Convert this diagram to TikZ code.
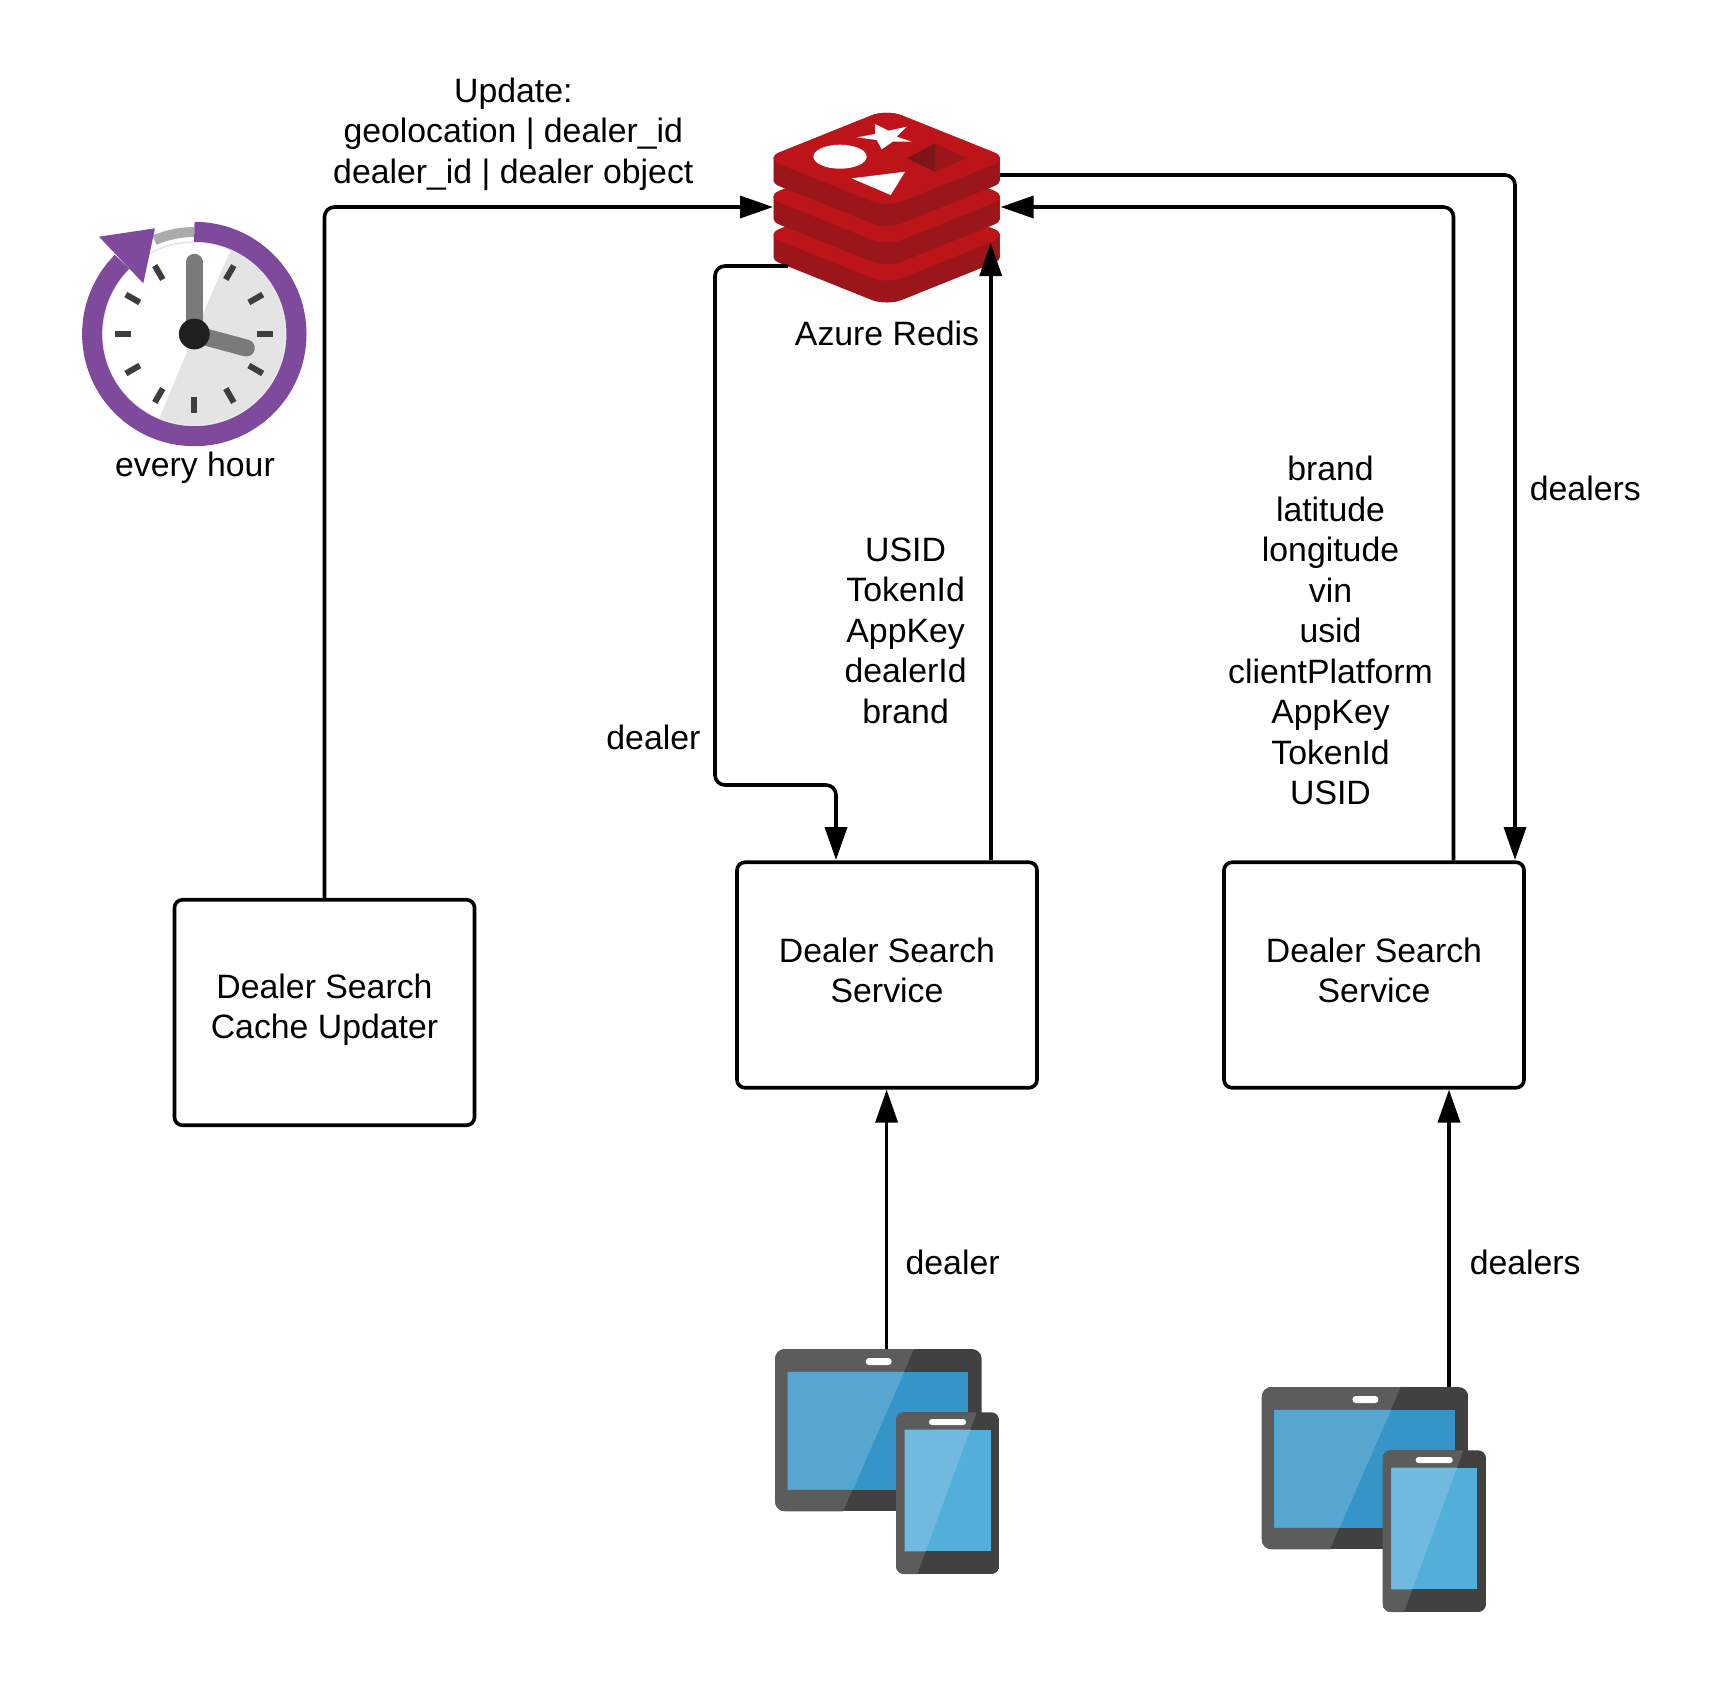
\documentclass[tikz,border=0pt]{standalone}
\usepackage{fontspec}
\setmainfont{Liberation Sans}
\usetikzlibrary{arrows.meta}
\definecolor{redTop}{HTML}{BD141A}
\definecolor{redSide}{HTML}{9B161B}
\definecolor{redDark}{HTML}{7E1517}
\definecolor{ringP}{HTML}{7F4A9C}
\definecolor{faceG}{HTML}{E4E4E4}
\definecolor{faceE}{HTML}{E6E6EE}
\definecolor{tickG}{HTML}{3E3E3E}
\definecolor{handG}{HTML}{7A7A7A}
\definecolor{bodyL}{HTML}{5C5C5C}
\definecolor{bodyD}{HTML}{414141}
\definecolor{scrL}{HTML}{56A6D0}
\definecolor{scrD}{HTML}{3695C8}
\definecolor{phL}{HTML}{6FBADE}
\definecolor{phD}{HTML}{52AFD9}
\tikzset{
  x=0.5pt,y=-0.5pt,
  box/.style={draw=black,line width=1.8pt,rounded corners=4pt,align=center,inner sep=0pt,
    minimum width=150pt,minimum height=112.75pt,font=\lbl},
  lab/.style={align=center,inner sep=0pt,font=\lbl},
  conn/.style={draw=black,line width=1.8pt,rounded corners=5pt,
    -{Triangle[length=16.5pt,width=11pt]}},
}
\newcommand{\lbl}{\fontsize{16.9}{20.25}\selectfont}
\newcommand{\rdiamond}[3]{\fill[#1,rounded corners=8pt] (886.7-122,#2+#3) -- (886.7,#2+#3-49) -- (886.7+122,#2+#3) -- (886.7,#2+#3+49) -- cycle;}
\newcommand{\redislayer}[1]{%
  \foreach \d in {22,20,...,0}{\rdiamond{redSide}{#1}{\d}}
  \rdiamond{redTop}{#1}{0}}
\newcommand{\devicepair}[2]{%
\begin{scope}[shift={(#1,#2)}]
  % tablet
  \begin{scope}
    \clip[rounded corners=5pt] (0,0) rectangle (206.7,162.3);
    \fill[bodyD] (0,0) rectangle (206.7,162.3);
    \fill[bodyL] (0,0) -- (139,0) -- (68,162.3) -- (0,162.3) -- cycle;
  \end{scope}
  \fill[scrD] (12.7,22.8) rectangle (193.3,140.5);
  \fill[scrL] (12.7,22.8) -- (129.3,22.8) -- (78,140.5) -- (12.7,140.5) -- cycle;
  \fill[white,rounded corners=1.7pt] (90.7,9) rectangle (116.7,16);
  % phone
  \begin{scope}
    \clip[rounded corners=4pt] (121,63.3) rectangle (224.3,225);
    \fill[bodyD] (121,63.3) rectangle (224.3,225);
    \fill[bodyL] (121,63.3) -- (201.7,63.3) -- (142.3,225) -- (121,225) -- cycle;
  \end{scope}
  \fill[phD] (129.7,80.7) rectangle (215.7,202.3);
  \fill[phL] (129.7,80.7) -- (195.3,80.7) -- (150.6,202.3) -- (129.7,202.3) -- cycle;
  \fill[white,rounded corners=1.4pt] (154,70) rectangle (191,76);
\end{scope}}
\begin{document}
\begin{tikzpicture}
\useasboundingbox (0,0) rectangle (1716,1688);
\fill[white] (0,0) rectangle (1716,1688);

% ---- clock
\begin{scope}[shift={(194.3,334)},x=0.5pt,y=0.5pt]
  \fill[white] (0,0) circle[radius=46.5pt];
  \fill[faceG] (0,0) -- (66.6:45.5pt) arc[start angle=66.6,end angle=-112.5,radius=45.5pt] -- cycle;
  \draw[faceE,line width=0.8pt] (0,0) circle[radius=46pt];
  \foreach \a in {60,30,0,-30,-60,-90,-120,-150,180,150,120}
    \draw[tickG,line width=3pt] (\a:31.5pt) -- (\a:39.5pt);
  \draw[handG,line width=8.2pt,line cap=round] (0,0) -- (0,72);
  \draw[handG,line width=8.5pt,line cap=round] (0,0) -- (52,-14);
  \fill[black!88] (0,0) circle[radius=7.7pt];
  \draw[black!33,line width=5pt] (90:51pt) arc[start angle=90,end angle=113,radius=51pt];
  \draw[ringP,line width=10pt] (90:51.1pt) arc[start angle=90,end angle=-225,radius=51.1pt];
  \fill[ringP] (-95.3,97.3) -- (-39.3,105.7) -- (-51,50.7) -- cycle;
\end{scope}

% ---- redis
\redislayer{235}
\redislayer{196.7}
\redislayer{158.3}
\begin{scope}[shift={(700,90)},x=0.1667pt,y=-0.1667pt]
  \fill[white] (420,200) ellipse[x radius=13.3pt,y radius=6pt];
  \fill[white] (620,110) -- (590,140) -- (635,155) -- (578,155) -- (545,178) -- (530,150) -- (470,142) -- (525,132) -- (525,102) -- (565,122) -- cycle;
  \fill[white] (455,265) -- (615,245) -- (572,315) -- cycle;
  \fill[redSide] (705,160) -- (800,205) -- (705,245) -- cycle;
  \fill[redDark] (705,160) -- (620,205) -- (705,245) -- cycle;
\end{scope}

% ---- devices
\devicepair{775}{1349}
\devicepair{1261.7}{1387}

% ---- boxes
\node[box,text depth=6.4pt] (updater) at (324.5,1012.5) {Dealer Search\\Cache Updater};
\node[box,text depth=5pt] (svcA) at (887,975) {Dealer Search\\Service};
\node[box,text depth=5pt] (svcB) at (1374,975) {Dealer Search\\Service};

% ---- connector ends
\coordinate (redisL) at (773,207);
\coordinate (redisLow) at (788,266);
\coordinate (redisFoot) at (990.7,243);
\coordinate (redisR) at (1000.7,207);
\coordinate (redisOut) at (1000,175);
\coordinate (tabA) at (886.6,1349);
\coordinate (tabB) at (1449,1387);
\coordinate (svcAin) at (836,860);
\coordinate (svcBin) at (1515,860);

% ---- connectors
\draw[conn] (updater.north) |- (redisL);
\draw[conn] (redisLow) -- (715,266) -- (715,785) -- (836,785) -- (svcAin);
\draw[conn] (svcA.north -| redisFoot) -- (redisFoot);
\draw[conn] (svcB.north -| 1453.5,0) -- (1453.5,207) -- (redisR);
\draw[conn] (redisOut) -- (1515,175) -- (svcBin);
\draw[conn] (tabA) -- (tabA |- svcA.south);
\draw[conn] (tabB) -- (tabB |- svcB.south);

% ---- labels
\node[lab] (update) at (513.3,134) {Update:\\geolocation | dealer\_id\\dealer\_id | dealer object};
\node[lab] (azure) at (887,333) {Azure Redis};
\node[lab] (hour) at (195,468) {every hour};
\node[lab] (fieldsA) at (905.6,630.6) {USID\\TokenId\\AppKey\\dealerId\\brand};
\node[lab] (fieldsB) at (1330.5,630.6) {brand\\latitude\\longitude\\vin\\usid\\clientPlatform\\AppKey\\TokenId\\USID};
\node[lab] (dealersR) at (1585.3,488) {dealers};
\node[lab] (dealerL) at (653.4,737.4) {dealer};
\node[lab] (dealerB) at (952.6,1262) {dealer};
\node[lab] (dealersB) at (1525.2,1262) {dealers};
\end{tikzpicture}
\end{document}
